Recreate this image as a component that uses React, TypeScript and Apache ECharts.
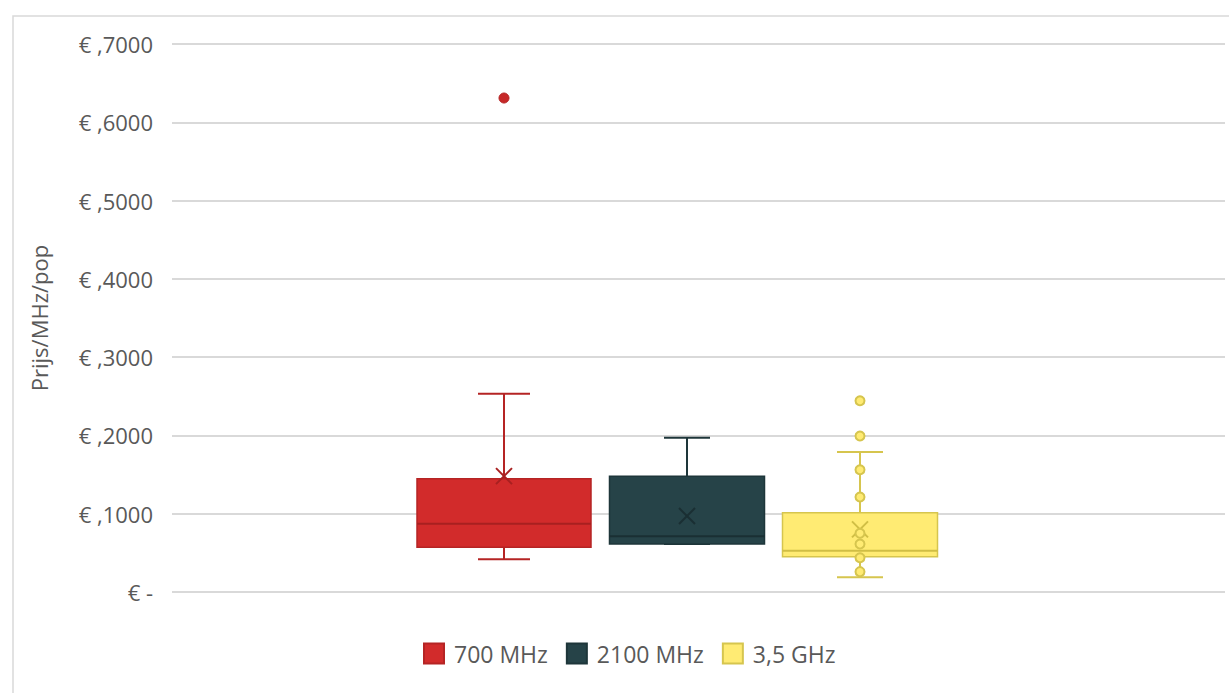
import React, { useEffect, useRef } from "react";
import * as echarts from "echarts";

const categories = [""];
const seriesNames = ["700 MHz", "2100 MHz", "3,5 GHz"];
// [min, q1, median, q3, max]
const box700 = [0.0417, 0.0571, 0.0872, 0.1447, 0.2533];
const box2100 = [0.0613, 0.0613, 0.0711, 0.148, 0.197];
const box35 = [0.0187, 0.0451, 0.0528, 0.1013, 0.1788];
const means = [0.148, 0.097, 0.08];
const outliers700 = [0.631];
const points35 = [0.2443, 0.1992, 0.1562, 0.1213, 0.075, 0.0613, 0.0438, 0.026];
const yTicks = [0, 0.1, 0.2, 0.3, 0.4, 0.5, 0.6, 0.7];

const FONT = "'Open Sans', 'Noto Sans', sans-serif";
const TEXT = "#595959";

const styles = [
  { offset: -194.5, width: 174, cap: 52, fill: "#D22B2B", stroke: "#B52424", median: "#A82020", mean: "#A82020" },
  { offset: -11.5, width: 155, cap: 46, fill: "#264348", stroke: "#1E363A", median: "#1A2F33", mean: "#1A2F33" },
  { offset: 161.5, width: 155, cap: 46, fill: "#FFEB73", stroke: "#D6C54E", median: "#D0BE45", mean: "#D0BE45" },
];

function makeRender(s: any) {
  return (params: any, api: any) => {
    const c = api.value(0);
    const cx = api.coord([c, 0])[0] + s.offset;
    const y = (i: number) => api.coord([c, api.value(i)])[1];
    const yMin = y(1), yQ1 = y(2), yMed = y(3), yQ3 = y(4), yMax = y(5), yMean = y(6);
    const half = s.width / 2;
    const ch = s.cap / 2;
    const m = 8;
    const ls = { stroke: s.stroke, lineWidth: 2 };
    return {
      type: "group",
      children: [
        { type: "line", shape: { x1: cx, y1: yQ3, x2: cx, y2: yMax }, style: ls },
        { type: "line", shape: { x1: cx, y1: yQ1, x2: cx, y2: yMin }, style: ls },
        { type: "line", shape: { x1: cx - ch, y1: yMax, x2: cx + ch, y2: yMax }, style: ls },
        { type: "line", shape: { x1: cx - ch, y1: yMin, x2: cx + ch, y2: yMin }, style: ls },
        {
          type: "rect",
          shape: { x: cx - half, y: yQ3, width: s.width, height: yQ1 - yQ3 },
          style: { fill: s.fill, stroke: s.stroke, lineWidth: 1.5 },
        },
        { type: "line", shape: { x1: cx - half, y1: yMed, x2: cx + half, y2: yMed }, style: { stroke: s.median, lineWidth: 2 } },
        { type: "line", shape: { x1: cx - m, y1: yMean - m, x2: cx + m, y2: yMean + m }, style: { stroke: s.mean, lineWidth: 2 } },
        { type: "line", shape: { x1: cx - m, y1: yMean + m, x2: cx + m, y2: yMean - m }, style: { stroke: s.mean, lineWidth: 2 } },
      ],
    };
  };
}

export default function App() {
  const ref = useRef<HTMLDivElement>(null);
  useEffect(() => {
    if (!ref.current) return;
    const chart = echarts.init(ref.current, null, { renderer: "svg" });
    const boxes = [box700, box2100, box35];
    const boxSeries = boxes.map((b, i) => ({
      type: "custom",
      name: seriesNames[i],
      renderItem: makeRender(styles[i]),
      itemStyle: { color: styles[i].fill, borderColor: styles[i].stroke, borderWidth: 1.5 },
      encode: { x: 0, y: [1, 2, 3, 4, 5, 6] },
      data: [[0, ...b, means[i]]],
      z: 2,
    }));
    chart.setOption({
      animation: false,
      graphic: [
        {
          type: "rect",
          left: 10.5,
          top: 13.5,
          shape: { width: 1300, height: 800 },
          style: { fill: "none", stroke: "#d9d9d9", lineWidth: 1.5 },
          z: -10,
        },
      ],
      grid: { left: 172, right: 4, top: 44, bottom: 101, containLabel: false },
      legend: {
        left: 418,
        top: 637,
        itemWidth: 20,
        itemHeight: 20,
        itemGap: 18,
        icon: "rect",
        data: seriesNames,
        textStyle: { color: TEXT, fontSize: 23, fontFamily: FONT, padding: [0, 0, 0, 5] },
      },
      xAxis: {
        type: "category",
        data: categories,
        axisLine: { show: false },
        axisTick: { show: false },
        axisLabel: { show: false },
      },
      yAxis: {
        type: "value",
        min: 0,
        max: 0.7,
        interval: 0.1,
        name: "Prijs/MHz/pop",
        nameLocation: "middle",
        nameRotate: 90,
        nameGap: 122,
        nameTextStyle: { color: TEXT, fontSize: 22, fontFamily: FONT },
        axisLine: { show: false },
        axisTick: { show: false },
        splitLine: { lineStyle: { color: "#d9d9d9", width: 1.8 } },
        axisLabel: {
          color: TEXT,
          fontSize: 22,
          fontFamily: FONT,
          margin: 19,
          formatter: (v: number) => {
            const t = yTicks.find((k) => Math.abs(k - v) < 1e-9);
            const val = t === undefined ? v : t;
            return val === 0 ? "€ -" : "€ ," + String(Math.round(val * 10000));
          },
        },
      },
      series: [
        ...boxSeries,
        {
          type: "scatter",
          name: "700 MHz outliers",
          data: outliers700.map((v) => [0, v]),
          symbol: "circle",
          symbolSize: 10,
          symbolOffset: [styles[0].offset, 0],
          itemStyle: { color: "#C62828", borderColor: "#B52424", borderWidth: 1, opacity: 1 },
          z: 5,
        },
        {
          type: "scatter",
          name: "3,5 GHz points",
          data: points35.map((v) => [0, v]),
          symbol: "circle",
          symbolSize: 9,
          symbolOffset: [styles[2].offset, 0],
          itemStyle: { color: "#FFEB73", borderColor: "#D6C54E", borderWidth: 2, opacity: 1 },
          z: 5,
        },
      ],
    });
    return () => chart.dispose();
  }, []);
  return (
    <div
      ref={ref}
      style={{ position: "fixed", left: 0, top: 0, width: 1229, height: 693, background: "#fff" }}
    />
  );
}
